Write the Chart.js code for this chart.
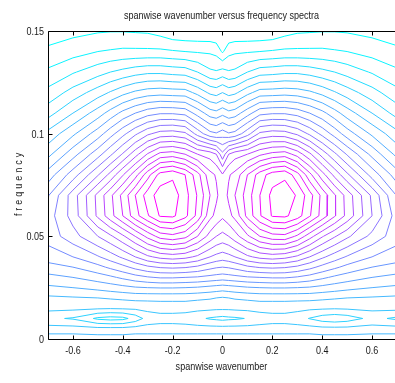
<!DOCTYPE html>
<html>
<head>
<meta charset="utf-8">
<script src="https://cdn.jsdelivr.net/npm/chart.js@4.4.1/dist/chart.umd.min.js"></script>
<style>
  html, body { margin: 0; padding: 0; background: #fff; }
  canvas { display: block; }
</style>
</head>
<body>
<canvas id="spectra" width="395" height="383"></canvas>
<script>
// grid: spanwise wavenumber (columns) and frequency (rows)
const wavenumber = [-0.7, -0.6, -0.5, -0.45, -0.4, -0.35, -0.3, -0.25, -0.2, -0.15, -0.1, -0.05, -0.025, 0,
  0.025, 0.05, 0.1, 0.15, 0.2, 0.25, 0.3, 0.35, 0.4, 0.45, 0.5, 0.6, 0.7];
const frequency = [0, 0.005, 0.01, 0.015, 0.02, 0.025, 0.03, 0.035, 0.04, 0.05,
  0.06, 0.07, 0.08, 0.09, 0.1, 0.11, 0.12, 0.13, 0.14, 0.15];

// spectral level, one row per frequency (bottom to top)
const level = [
  [7.6,7.6,7.5,7.5,7.5,7.6,7.6,7.6,7.6,7.6,7.6,7.6,7.6,7.6, 7.6,7.6,7.6,7.6,7.6,7.6,7.6,7.6,7.5,7.5,7.5,7.6,7.6],
  [6.4,6.4,6.3,6.3,6.3,6.4,6.4,6.4,6.4,6.4,6.4,6.4,6.4,6.4, 6.4,6.4,6.4,6.4,6.4,6.4,6.4,6.4,6.3,6.3,6.3,6.4,6.4],
  [5.2,4.9,3.8,3.6,3.7,4.4,5.4,5.6,5.6,5.5,5.2,4.9,4.8,4.7, 4.8,4.85,5.05,5.4,5.6,5.6,5.4,4.95,4.5,4.3,4.5,5.3,4.8],
  [6.3,6.25,6.15,6.1,6.15,6.2,6.3,6.4,6.4,6.4,6.3,6.25,6.2,6.2, 6.2,6.25,6.3,6.4,6.4,6.4,6.3,6.2,6.15,6.1,6.15,6.25,6.3],
  [6.8,6.9,7.0,7.1,7.2,7.3,7.3,7.3,7.3,7.3,7.2,7.1,7.0,6.9, 7.0,7.1,7.2,7.3,7.3,7.3,7.3,7.3,7.2,7.1,7.0,6.9,6.8],
  [7.8,8.0,8.3,8.5,8.7,8.9,9.0,9.05,9.05,9.0,8.9,8.7,8.6,8.5, 8.6,8.7,8.9,9.0,9.05,9.05,9.0,8.9,8.7,8.5,8.3,8.0,7.8],
  [8.7,9.0,9.5,9.8,10.2,10.6,10.9,11.1,11.1,11.0,10.9,10.7,10.6,10.5, 10.6,10.7,10.9,11.0,11.1,11.1,10.9,10.6,10.2,9.8,9.5,9.0,8.7],
  [9.6,10.0,10.7,11.2,11.7,12.3,12.8,13.1,13.2,13.1,12.8,12.3,12.1,12.0, 12.1,12.3,12.8,13.1,13.2,13.1,12.8,12.3,11.7,11.2,10.7,10.0,9.6],
  [10.5,11.0,11.9,12.5,13.2,14.0,14.8,15.3,15.5,15.3,14.8,14.0,13.7,13.5, 13.7,14.0,14.8,15.3,15.5,15.3,14.8,14.0,13.2,12.5,11.9,11.0,10.5],
  [11.4,12.6,14.0,14.8,15.8,17.0,18.3,19.4,19.7,19.3,18.0,16.6,16.0,15.7, 16.0,16.6,17.8,19.0,19.6,19.7,18.8,17.4,16.1,15.1,14.2,12.7,11.4],
  [11.5,13.4,16.2,17.6,19.0,20.6,21.9,23.1,23.2,22.3,20.7,18.3,17.7,17.2, 17.7,18.3,20.3,21.9,23.1,23.2,22.5,21.1,19.6,18.1,16.7,14.0,11.5],
  [10.9,13.5,16.3,17.75,19.3,21.0,22.5,23.5,23.55,22.4,20.9,19.0,18.2,17.4, 18.2,19.0,20.5,22.0,23.3,23.55,22.9,21.4,19.7,18.1,16.6,13.8,10.9],
  [9.45,11.5,13.9,15.3,16.9,18.6,20.6,22.4,22.8,22.0,20.4,18.3,17.9,17.1, 17.9,18.3,20.0,21.5,22.5,22.8,21.4,19.3,17.4,15.7,14.2,11.6,9.45],
  [7.7,9.6,11.6,12.8,14.1,15.6,17.1,18.3,18.5,18.0,17.0,16.6,16.0,14.3, 16.0,16.6,17.0,17.8,18.3,18.5,17.6,16.2,14.6,13.2,11.9,9.7,7.7],
  [6.3,7.8,9.5,10.6,11.7,12.8,13.8,14.4,14.5,14.2,12.6,11.3,11.1,11.5, 11.1,11.3,12.6,14.2,14.5,14.4,13.8,12.8,11.7,10.6,9.5,7.8,6.3],
  [4.6,6.0,7.5,8.4,9.3,10.0,10.6,10.9,10.9,10.7,9.6,8.5,8.3,8.7, 8.3,8.5,9.6,10.7,10.9,10.9,10.6,10.0,9.3,8.4,7.5,6.0,4.6],
  [3.3,4.4,5.5,6.1,6.7,7.2,7.5,7.6,7.5,7.45,6.7,5.8,5.6,6.0, 5.6,5.8,6.7,7.45,7.5,7.6,7.5,7.2,6.7,6.1,5.5,4.4,3.3],
  [2.2,2.9,3.6,4.0,4.3,4.6,4.8,4.8,4.65,4.55,4.0,3.2,3.1,3.4, 3.1,3.2,4.0,4.55,4.65,4.8,4.8,4.6,4.3,4.0,3.6,2.9,2.2],
  [1.2,1.6,2.0,2.1,2.2,2.2,2.2,2.2,2.1,2.0,1.9,1.85,1.7,0.85, 1.7,1.85,1.9,2.0,2.1,2.2,2.2,2.2,2.2,2.1,2.0,1.6,1.2],
  [0.5,0.7,0.9,0.95,0.95,0.9,0.85,0.6,0.2,0.1,0.1,0.1,0.0,-0.6, 0.0,0.1,0.1,0.1,0.2,0.6,0.85,0.9,0.95,0.95,0.9,0.7,0.5]
];

const contourLevels = [1,2,3,4,5,6,7,8,9,10,11,12,13,14,15,16,17,18,19,20,21,22,23];

const xTicks = [-0.6, -0.4, -0.2, 0, 0.2, 0.4, 0.6];
const xTickLabels = ['-0.6', '-0.4', '-0.2', '0', '0.2', '0.4', '0.6'];
const yTicks = [0, 0.05, 0.1, 0.15];
const yTickLabels = ['0', '0.05', '0.1', '0.15'];

const FONT = "11px 'Liberation Sans', Arial, sans-serif";
const TEXT = '#1a1a1a';
const NARROW = 0.82; // the original uses a condensed face

// marching squares on the rectilinear grid
function contour(lv) {
  const L = lv + 1e-7;
  const cross = (x1, y1, v1, x2, y2, v2) => {
    const t = (L - v1) / (v2 - v1);
    return { x: x1 + t * (x2 - x1), y: y1 + t * (y2 - y1) };
  };
  const hEdge = (j, i) => ({ key: 'h' + j + '_' + i,
    p: cross(wavenumber[i], frequency[j], level[j][i], wavenumber[i + 1], frequency[j], level[j][i + 1]) });
  const vEdge = (j, i) => ({ key: 'v' + j + '_' + i,
    p: cross(wavenumber[i], frequency[j], level[j][i], wavenumber[i], frequency[j + 1], level[j + 1][i]) });

  const segs = [];
  for (let j = 0; j < frequency.length - 1; j++) {
    for (let i = 0; i < wavenumber.length - 1; i++) {
      const a = level[j][i], b = level[j][i + 1], c = level[j + 1][i + 1], d = level[j + 1][i];
      const sa = a > L, sb = b > L, sc = c > L, sd = d > L;
      const bottom = sa !== sb ? hEdge(j, i) : null;
      const right = sb !== sc ? vEdge(j, i + 1) : null;
      const top = sd !== sc ? hEdge(j + 1, i) : null;
      const left = sa !== sd ? vEdge(j, i) : null;
      const e = [bottom, right, top, left].filter(Boolean);
      if (e.length === 2) {
        segs.push([e[0], e[1]]);
      } else if (e.length === 4) {
        const centre = (a + b + c + d) / 4 > L;
        if (centre === sa) {
          segs.push([bottom, right]);
          segs.push([top, left]);
        } else {
          segs.push([left, bottom]);
          segs.push([right, top]);
        }
      }
    }
  }

  // join the pieces into polylines
  const byKey = new Map();
  segs.forEach((s, n) => s.forEach(q => {
    if (!byKey.has(q.key)) byKey.set(q.key, []);
    byKey.get(q.key).push(n);
  }));
  const used = new Array(segs.length).fill(false);
  const out = [];
  for (let n = 0; n < segs.length; n++) {
    if (used[n]) continue;
    used[n] = true;
    let line = [segs[n][0], segs[n][1]];
    for (let pass = 0; pass < 2; pass++) {
      let grown = true;
      while (grown) {
        grown = false;
        const end = line[line.length - 1];
        for (const m of byKey.get(end.key)) {
          if (used[m]) continue;
          used[m] = true;
          const s = segs[m];
          line.push(s[0].key === end.key ? s[1] : s[0]);
          grown = true;
          break;
        }
      }
      line.reverse();
    }
    line.forEach(q => out.push({ x: q.p.x, y: q.p.y }));
    out.push({ x: null, y: null });
  }
  return out;
}

// MATLAB "cool" colormap
function cool(lv) {
  const t = (lv - contourLevels[0]) / (contourLevels[contourLevels.length - 1] - contourLevels[0]);
  return `rgb(${Math.round(255 * t)},${Math.round(255 * (1 - t))},255)`;
}

const datasets = contourLevels.map(lv => ({
  label: 'level ' + lv,
  data: contour(lv),
  borderColor: cool(lv),
  borderWidth: 1,
  pointRadius: 0,
  showLine: true,
  spanGaps: false,
  tension: 0
}));

// condensed text drawn at (x, y)
function narrowText(ctx, text, x, y, align, angle, spacing) {
  ctx.save();
  ctx.translate(x, y);
  if (angle) ctx.rotate(angle);
  ctx.scale(NARROW, 1);
  ctx.font = FONT;
  ctx.fillStyle = TEXT;
  ctx.textAlign = align;
  ctx.textBaseline = 'alphabetic';
  if (spacing) ctx.letterSpacing = spacing + 'px';
  ctx.fillText(text, 0, 0);
  ctx.restore();
}

// axis box with inward ticks, tick labels and titles
const frame = {
  id: 'frame',
  afterDatasetsDraw(chart) {
    const { ctx, chartArea: a, scales: { x, y } } = chart;
    const l = Math.round(a.left) + 0.5, r = Math.round(a.right) + 0.5;
    const t = Math.round(a.top) + 0.5, b = Math.round(a.bottom) + 0.5;
    ctx.save();
    ctx.strokeStyle = '#000';
    ctx.lineWidth = 1;
    ctx.beginPath();
    ctx.moveTo(l, t); ctx.lineTo(r, t);
    ctx.moveTo(l, t); ctx.lineTo(l, b); ctx.lineTo(r, b);
    xTicks.forEach(v => {
      const px = Math.round(x.getPixelForValue(v)) + 0.5;
      ctx.moveTo(px, b); ctx.lineTo(px, b - 4);
      ctx.moveTo(px, t); ctx.lineTo(px, t + 4);
    });
    yTicks.forEach(v => {
      const py = Math.round(y.getPixelForValue(v)) + 0.5;
      ctx.moveTo(l, py); ctx.lineTo(l + 4, py);
    });
    ctx.stroke();
    ctx.restore();

    xTicks.forEach((v, i) => narrowText(ctx, xTickLabels[i], x.getPixelForValue(v), a.bottom + 14.5, 'center'));
    yTicks.forEach((v, i) => narrowText(ctx, yTickLabels[i], a.left - 4, y.getPixelForValue(v) + 4, 'right'));
    const cx = (a.left + a.right) / 2;
    narrowText(ctx, 'spanwise wavenumber versus frequency spectra', cx, 19, 'center');
    narrowText(ctx, 'spanwise wavenumber', cx, 370, 'center');
    narrowText(ctx, 'frequency', 21.5, 183, 'center', -Math.PI / 2, 3.6);
  }
};

new Chart(document.getElementById('spectra'), {
  type: 'scatter',
  data: { datasets },
  options: {
    responsive: false,
    animation: false,
    events: [],
    layout: { padding: { top: 31, right: 0, bottom: 0, left: 0 } },
    plugins: {
      legend: { display: false },
      tooltip: { enabled: false },
      title: { display: false }
    },
    scales: {
      x: {
        type: 'linear',
        min: -0.7,
        max: 0.692,
        afterBuildTicks: s => { s.ticks = xTicks.map(v => ({ value: v })); },
        afterFit: s => { s.height = 44; },
        grid: { display: false, drawTicks: false },
        border: { display: false },
        ticks: { display: false }
      },
      y: {
        type: 'linear',
        min: 0,
        max: 0.15,
        afterBuildTicks: s => { s.ticks = yTicks.map(v => ({ value: v })); },
        afterFit: s => { s.width = 48; },
        grid: { display: false, drawTicks: false },
        border: { display: false },
        ticks: { display: false }
      }
    }
  },
  plugins: [frame]
});
</script>
</body>
</html>
